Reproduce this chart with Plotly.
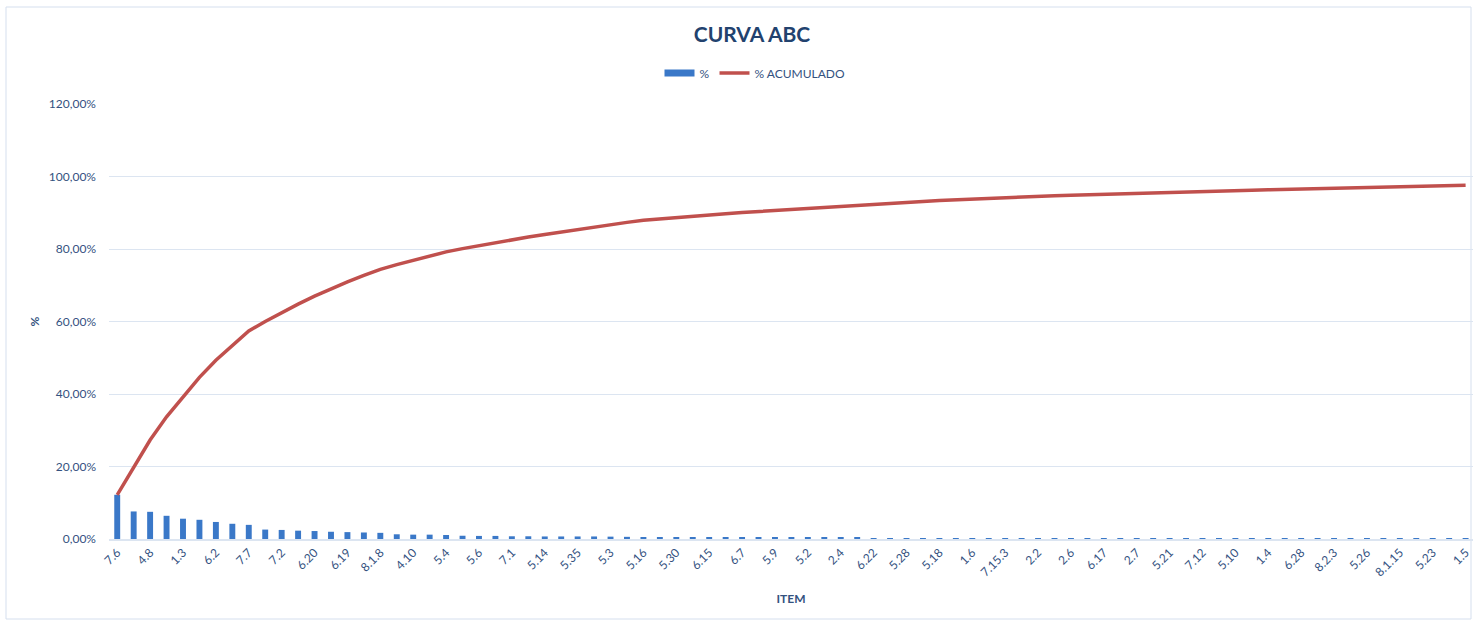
import plotly.graph_objects as go

# Item labels shown on the axis (every second item is labelled in the source)
ITEM_LABELS = ["7.6", "4.8", "1.3", "6.2", "7.7", "7.2", "6.20", "6.19", "8.1.8", "4.10",
               "5.4", "5.6", "7.1", "5.14", "5.35", "5.3", "5.16", "5.30", "6.15", "6.7",
               "5.9", "5.2", "2.4", "6.22", "5.28", "5.18", "1.6", "7.15.3", "2.2", "2.6",
               "6.17", "2.7", "5.21", "7.12", "5.10", "1.4", "6.28", "8.2.3", "5.26", "8.1.15",
               "5.23", "1.5"]

# % per item (fraction), 83 items in ranking order
PCT = [0.122, 0.076, 0.075, 0.064, 0.056, 0.053, 0.047, 0.042, 0.039, 0.026,
       0.025, 0.023, 0.022, 0.020, 0.019, 0.018, 0.017, 0.013, 0.012, 0.012,
       0.011, 0.009, 0.0085, 0.0085, 0.0075, 0.0075, 0.007, 0.007, 0.007, 0.007,
       0.0065, 0.006, 0.0055, 0.004, 0.004, 0.0035, 0.0035, 0.0035, 0.003, 0.003,
       0.003, 0.003, 0.003, 0.0028, 0.0028, 0.0028, 0.0027, 0.0026, 0.0025, 0.0025,
       0.0024, 0.0022, 0.0021, 0.002, 0.0019, 0.0018, 0.0017, 0.0016, 0.0015, 0.0015,
       0.0014, 0.0014, 0.0013, 0.0013, 0.0013, 0.0012, 0.0012, 0.0012, 0.0011, 0.0011,
       0.0011, 0.0011, 0.001, 0.001, 0.001, 0.001, 0.001, 0.001, 0.001, 0.001,
       0.001, 0.001, 0.001]

# % accumulated (fraction)
PCT_ACUM = [0.122, 0.198, 0.273, 0.337, 0.393, 0.446, 0.493, 0.535, 0.574, 0.600,
            0.625, 0.648, 0.670, 0.690, 0.709, 0.727, 0.744, 0.757, 0.769, 0.781,
            0.792, 0.801, 0.8095, 0.818, 0.8255, 0.833, 0.840, 0.847, 0.854, 0.861,
            0.8675, 0.8735, 0.879, 0.883, 0.887, 0.8905, 0.894, 0.8975, 0.9005, 0.9035,
            0.9065, 0.9095, 0.9125, 0.9153, 0.9181, 0.9209, 0.9236, 0.9262, 0.9287, 0.9312,
            0.9336, 0.9358, 0.9379, 0.9399, 0.9418, 0.9436, 0.9453, 0.9469, 0.9484, 0.9499,
            0.9513, 0.9527, 0.9540, 0.9553, 0.9566, 0.9578, 0.9590, 0.9602, 0.9613, 0.9624,
            0.9635, 0.9646, 0.9656, 0.9666, 0.9676, 0.9686, 0.9696, 0.9706, 0.9716, 0.9726,
            0.9736, 0.9746, 0.9756]

Y_TICKS = [0, 0.2, 0.4, 0.6, 0.8, 1.0, 1.2]

x_idx = list(range(len(PCT)))
tick_pos = x_idx[::2]

FONT = "Lato, 'Open Sans', sans-serif"
TXT = "#34527F"
GRID = "#DCE5F1"
BAR_C = "#3A78C8"

fig = go.Figure()
fig.add_trace(go.Bar(
    x=x_idx, y=PCT, name="%", width=0.36, showlegend=False,
    marker=dict(color=BAR_C, line=dict(width=0)),
))
# legend entry for the bars drawn as a wide swatch, like the source
fig.add_trace(go.Scatter(
    x=[None], y=[None], name="%", mode="lines",
    line=dict(color=BAR_C, width=7),
))
fig.add_trace(go.Scatter(
    x=x_idx, y=PCT_ACUM, name="% ACUMULADO", mode="lines",
    line=dict(color="#C0504D", width=3.5),
))

OFF = 0  # page body margin removed via post_script
W, H = 1473, 621
# reference pixel positions (window coords)
PL, PR, PT, PB = 109, 1473, 104, 539
L, T = PL - OFF, PT - OFF
R = 0
B = H - (PB - OFF)
pw = W - L - R
ph = H - T - B


def px_x(x):
    return (x - PL) / pw


def px_y(y):
    return (PB - y) / ph


fig.update_layout(
    width=W, height=H,
    margin=dict(l=L, r=R, t=T, b=B, autoexpand=False),
    paper_bgcolor="white", plot_bgcolor="white",
    separators=",.",
    font=dict(family=FONT, color=TXT, size=12),
    title=dict(text="<b>CURVA ABC</b>", x=px_x(752), xanchor="center", xref="paper",
               y=1 - (35 - OFF) / H, yanchor="middle", yref="container",
               font=dict(size=21, color="#22426E", family=FONT)),
    legend=dict(orientation="h", x=px_x(755), xanchor="center",
                y=px_y(73), yanchor="middle",
                font=dict(size=12, color=TXT), itemwidth=30,
                bgcolor="rgba(0,0,0,0)"),
    showlegend=True,
)
fig.update_xaxes(
    range=[-0.5, 82.45], tickmode="array", tickvals=tick_pos, ticktext=ITEM_LABELS,
    tickangle=-45, tickfont=dict(size=12, color=TXT), showgrid=False,
    showline=True, linecolor=GRID, linewidth=2, ticks="", zeroline=False,
    ticklabeloverflow="allow",
    title=dict(text="<b>ITEM</b>", font=dict(size=12, color=TXT), standoff=16),
)
fig.update_yaxes(
    range=[0, 1.2], tickmode="array", tickvals=Y_TICKS, tickformat=".2%",
    tickfont=dict(size=12, color=TXT), showgrid=True, gridcolor=GRID, gridwidth=1,
    showline=False, zeroline=False, ticks="", ticklabelstandoff=12,
    title=dict(text="<b>%</b>", font=dict(size=12, color=TXT), standoff=6),
)
# chart-area border
fig.add_shape(type="rect", xref="paper", yref="paper",
              x0=px_x(6), x1=px_x(1471),
              y0=px_y(619), y1=px_y(7),
              line=dict(color="#D5DFEE", width=1), fillcolor="rgba(0,0,0,0)",
              layer="below")

fig.write_html(
    "out.html",
    config={"displayModeBar": False},
    post_script="document.body.style.margin='0';document.body.style.overflow='hidden';",
)
